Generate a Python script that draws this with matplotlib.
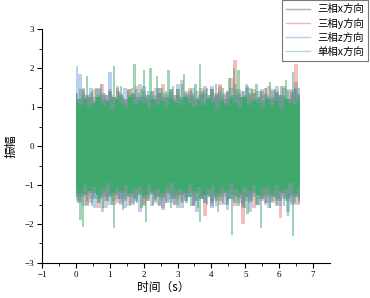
import matplotlib
matplotlib.use('Agg')
import matplotlib.pyplot as plt
from matplotlib.lines import Line2D
import numpy as np

# 各系列の振幅（上側ピーク・下側ピーク）
x3_hi = [1.3, 1.2, 1.45, 1.25, 1.35, 1.15, 1.5, 1.3, 1.2, 1.4,
         1.25, 1.55, 1.3, 1.2, 1.45, 1.35, 1.25, 1.6, 1.3, 1.2,
         1.4, 1.3, 1.5, 1.25, 1.35, 1.45, 1.2, 1.3, 1.7, 1.25,
         1.4, 1.3, 1.2, 1.5, 1.35, 1.25, 1.45, 1.3, 1.55, 1.2,
         1.35, 1.25, 1.6, 1.3, 1.4, 1.2, 1.5, 1.35, 1.25, 1.45,
         1.3, 1.2, 1.4, 1.55, 1.3, 1.25, 1.45, 1.35, 1.65, 1.3]
x3_lo = [-1.25, -1.4, -1.3, -1.55, -1.2, -1.35, -1.45, -1.25, -1.6, -1.3,
         -1.4, -1.2, -1.5, -1.35, -1.25, -1.45, -1.3, -1.2, -1.55, -1.4,
         -1.25, -1.35, -1.5, -1.3, -1.2, -1.45, -1.35, -1.6, -1.25, -1.4,
         -1.3, -1.5, -1.2, -1.35, -1.45, -1.25, -1.55, -1.3, -1.4, -1.2,
         -1.5, -1.35, -1.25, -1.45, -1.6, -1.3, -1.4, -1.2, -1.5, -1.35,
         -1.25, -1.45, -1.3, -1.55, -1.4, -1.2, -1.35, -1.5, -1.3, -1.45]
y3_hi = [1.35, 1.2, 1.5, 1.3, 1.25, 1.45, 1.2, 1.6, 1.3, 1.4,
         1.25, 1.5, 1.35, 1.2, 1.45, 1.3, 1.55, 1.25, 1.4, 1.3,
         1.2, 1.5, 1.35, 1.6, 1.25, 1.4, 1.3, 1.45, 1.2, 1.35,
         1.5, 1.25, 1.4, 1.3, 1.55, 1.2, 1.45, 1.35, 1.6, 1.3,
         1.4, 1.75, 2.2, 1.35, 1.25, 1.5, 1.3, 1.45, 1.2, 1.4,
         1.35, 1.55, 1.25, 1.4, 1.3, 1.5, 1.2, 1.45, 2.1, 1.35]
y3_lo = [-1.3, -1.45, -1.25, -1.5, -1.35, -1.2, -1.6, -1.3, -1.4, -1.25,
         -1.5, -1.35, -1.45, -1.2, -1.55, -1.3, -1.4, -1.25, -1.5, -1.35,
         -1.2, -1.45, -1.3, -1.6, -1.4, -1.25, -1.5, -1.35, -1.45, -1.3,
         -1.2, -1.55, -1.4, -1.3, -1.8, -1.25, -1.45, -1.35, -1.5, -1.3,
         -1.4, -1.25, -1.55, -1.35, -2.0, -1.3, -1.45, -1.6, -1.25, -1.4,
         -1.5, -1.3, -1.45, -1.35, -1.85, -1.3, -1.4, -1.25, -1.5, -1.35]
z3_hi = [2.05, 1.85, 1.4, 1.3, 1.5, 1.25, 1.45, 1.35, 1.3, 1.9,
         1.25, 1.4, 1.3, 1.5, 1.2, 1.35, 1.45, 1.25, 1.55, 1.3,
         1.4, 1.2, 1.5, 1.35, 1.25, 1.45, 1.3, 1.6, 1.25, 1.4,
         1.3, 1.5, 1.2, 1.35, 1.45, 1.3, 1.55, 1.25, 1.4, 1.35,
         1.2, 1.5, 1.3, 1.45, 1.25, 1.6, 1.35, 1.2, 1.4, 1.3,
         1.5, 1.25, 1.45, 1.35, 1.3, 1.55, 1.2, 1.4, 1.5, 1.3]
z3_lo = [-1.4, -1.3, -1.55, -1.25, -1.45, -1.6, -1.35, -1.7, -1.3, -1.5,
         -1.25, -1.45, -1.35, -1.6, -1.3, -1.5, -1.4, -1.7, -1.35, -1.25,
         -1.55, -1.4, -1.3, -1.65, -1.45, -1.35, -1.5, -1.25, -1.6, -1.4,
         -1.3, -1.55, -1.7, -1.35, -1.45, -1.3, -1.6, -1.4, -1.25, -1.5,
         -1.65, -1.35, -1.45, -1.3, -1.55, -1.4, -1.7, -1.3, -1.5, -1.35,
         -1.45, -1.6, -1.3, -1.4, -1.55, -1.35, -1.7, -1.45, -1.3, -1.5]
x1_hi = [1.35, 1.2, 1.45, 1.3, 1.15, 1.8, 1.25, 1.4, 1.1, 1.5,
         1.3, 1.6, 1.2, 1.35, 1.05, 1.45, 1.3, 2.05, 1.2, 1.4,
         1.55, 1.25, 1.1, 1.4, 1.3, 1.5, 2.1, 1.2, 1.35, 1.45,
         1.95, 1.25, 1.4, 2.0, 1.3, 1.15, 1.8, 1.35, 1.5, 1.2,
         1.4, 1.95, 1.3, 1.55, 1.15, 1.45, 1.25, 1.6, 1.85, 1.3,
         1.2, 1.45, 1.35, 1.6, 1.25, 2.1, 1.4, 1.15, 1.5, 1.3,
         1.45, 1.2, 1.6, 1.35, 1.25, 1.5, 1.1, 1.4, 1.75, 1.3,
         2.0, 1.45, 1.95, 1.25, 1.4, 1.3, 1.55, 1.2, 1.45, 1.35,
         1.6, 1.25, 1.4, 1.15, 1.5, 1.3, 1.65, 1.2, 1.45, 1.35,
         1.25, 1.55, 1.3, 1.7, 1.4, 1.2, 1.9, 1.45, 1.3, 1.5]
x1_lo = [-1.3, -1.45, -1.9, -2.07, -1.25, -1.4, -1.15, -1.55, -1.3, -1.2,
         -1.45, -1.35, -1.6, -1.2, -1.4, -1.3, -1.5, -2.1, -1.25, -1.35,
         -1.2, -1.65, -1.4, -1.3, -1.5, -1.15, -1.35, -1.45, -1.25, -1.6,
         -1.3, -1.95, -1.4, -1.2, -1.5, -1.35, -1.25, -1.55, -1.4, -1.3,
         -1.45, -1.2, -1.6, -1.35, -1.3, -1.5, -1.25, -1.4, -1.15, -1.45,
         -1.3, -1.55, -1.25, -1.4, -1.6, -1.95, -1.35, -1.2, -1.5, -1.3,
         -1.4, -1.25, -1.55, -1.7, -1.3, -1.45, -1.2, -1.5, -1.35, -2.28,
         -1.4, -1.3, -1.55, -1.25, -1.45, -1.6, -1.75, -1.3, -1.4, -1.2,
         -1.5, -1.35, -2.1, -1.3, -1.45, -1.25, -1.6, -1.4, -1.3, -1.5,
         -1.35, -1.2, -1.55, -1.4, -1.8, -1.3, -2.3, -1.45, -1.25, -1.4]
# 单相x方向の密な部分（ほぼ塗りつぶされて見える範囲）
x1_core_hi = [1.15, 1.05, 1.2, 1.0, 1.1, 1.25, 1.05, 1.15, 0.95, 1.2,
              1.1, 1.0, 1.25, 1.05, 1.15, 1.1, 0.95, 1.2, 1.05, 1.15,
              1.0, 1.2, 1.1, 1.05, 1.25, 1.1, 1.0, 1.15, 1.05, 1.2,
              1.1, 0.95, 1.15, 1.05, 1.2, 1.1, 1.0, 1.25, 1.05, 1.15,
              1.1, 1.0, 1.2, 1.05, 1.15, 0.95, 1.2, 1.1, 1.05, 1.15]
x1_core_lo = [-1.1, -1.2, -1.0, -1.15, -1.05, -1.25, -1.1, -0.95, -1.2, -1.05,
              -1.15, -1.0, -1.2, -1.1, -1.05, -1.25, -1.0, -1.15, -1.1, -1.2,
              -1.05, -0.95, -1.15, -1.1, -1.2, -1.0, -1.15, -1.05, -1.25, -1.1,
              -1.0, -1.2, -1.05, -1.15, -0.95, -1.1, -1.2, -1.05, -1.15, -1.0,
              -1.25, -1.1, -1.05, -1.2, -1.0, -1.15, -1.1, -0.95, -1.2, -1.05]

t_end = 6.6
labels = ['三相x方向', '三相y方向', '三相z方向', '单相x方向']
colors = ['#3a3a3a', '#e0454a', '#4a7fd8', '#3aaa6a']
fill_alpha = [0.25, 0.35, 0.38, 0.5]

plt.rcParams['font.family'] = ['Liberation Serif', 'Noto Sans CJK SC']
plt.rcParams['axes.unicode_minus'] = True

fig = plt.figure(figsize=(3.7, 2.98), dpi=100)
ax = fig.add_axes([0.1135, 0.1175, 0.7785, 0.785])

series = [(x3_hi, x3_lo), (y3_hi, y3_lo), (z3_hi, z3_lo), (x1_hi, x1_lo)]
for k, ((hi, lo), c, fa) in enumerate(zip(series, colors, fill_alpha)):
    # 包絡（上下ピーク）の範囲を塗りつぶす
    tt = np.linspace(0, t_end, len(hi))
    ax.fill_between(tt, lo, hi, step='mid', color=c, alpha=fa, lw=0, zorder=2 + k * 0.1)

# 单相x方向の密な中心部分
tc = np.linspace(0, t_end, len(x1_core_hi))
ax.fill_between(tc, x1_core_lo, x1_core_hi, step='mid', color=colors[3], alpha=0.9,
                lw=0, zorder=3)

ax.set_xlim(-1, 7.5)
ax.set_ylim(-3, 3)
ax.set_xticks(range(-1, 8))
ax.set_yticks(range(-3, 4))
ax.set_xticks(np.arange(-0.5, 7.5, 1), minor=True)
ax.set_yticks(np.arange(-2.5, 3, 1), minor=True)
ax.spines['top'].set_visible(False)
ax.spines['right'].set_visible(False)
for s in ['left', 'bottom']:
    ax.spines[s].set_linewidth(0.8)
ax.tick_params(which='major', direction='out', length=3.5, width=0.8, labelsize=6.5, pad=2)
ax.tick_params(which='minor', direction='out', length=2, width=0.6)

ax.set_xlabel('时间（s）', fontsize=8.5, family=['Noto Sans CJK SC'])
ax.set_ylabel('振幅', fontsize=8.5, family=['Noto Sans CJK SC'])
ax.xaxis.set_label_coords(0.42, -0.075)
ax.yaxis.set_label_coords(-0.085, 0.5)

handles = [Line2D([], [], color=c, lw=1.0, alpha=0.4) for c in colors]
leg = fig.legend(handles, labels, loc='upper right', bbox_to_anchor=(368 / 370, 1.0),
                 prop={'family': ['Noto Sans CJK SC'], 'size': 7.5},
                 fancybox=False, framealpha=1, edgecolor='#777777',
                 handlelength=2.3, handletextpad=0.7, labelspacing=0.35,
                 borderpad=0.4, borderaxespad=0)
leg.get_frame().set_linewidth(0.8)

fig.savefig('out.png', dpi=100)
